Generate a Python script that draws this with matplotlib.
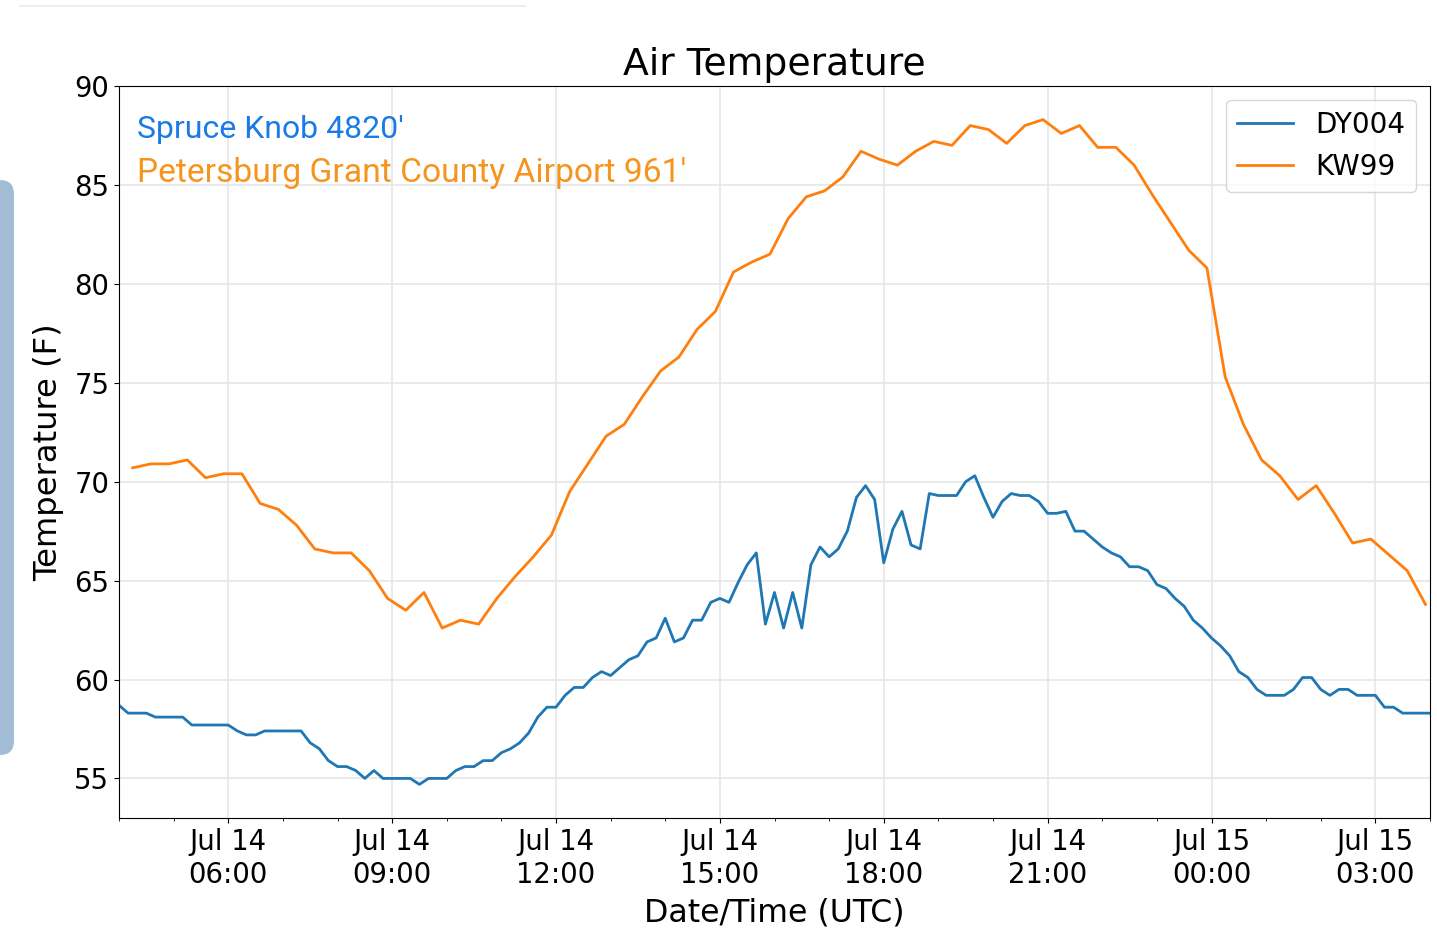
import matplotlib
matplotlib.use("Agg")
import matplotlib.pyplot as plt
import matplotlib.dates as mdates
from matplotlib.patches import FancyBboxPatch
from matplotlib.lines import Line2D
from matplotlib.transforms import IdentityTransform
import pandas as pd

# DY004 (Spruce Knob), every 10 min from Jul 14 04:00 UTC
dy004_start = "2018-07-14 04:00"
dy004_temp = [
    58.7, 58.3, 58.3, 58.3, 58.1, 58.1, 58.1, 58.1, 57.7, 57.7, 57.7, 57.7,  # 04-05
    57.7, 57.4, 57.2, 57.2, 57.4, 57.4, 57.4, 57.4, 57.4, 56.8, 56.5, 55.9,  # 06-07
    55.6, 55.6, 55.4, 55.0, 55.4, 55.0, 55.0, 55.0, 55.0, 54.7, 55.0, 55.0,  # 08-09
    55.0, 55.4, 55.6, 55.6, 55.9, 55.9, 56.3, 56.5, 56.8, 57.3, 58.1, 58.6,  # 10-11
    58.6, 59.2, 59.6, 59.6, 60.1, 60.4, 60.2, 60.6, 61.0, 61.2, 61.9, 62.1,  # 12-13
    63.1, 61.9, 62.1, 63.0, 63.0, 63.9, 64.1, 63.9, 64.9, 65.8, 66.4, 62.8,  # 14-15
    64.4, 62.6, 64.4, 62.6, 65.8, 66.7, 66.2, 66.6, 67.5, 69.2, 69.8, 69.1,  # 16-17
    65.9, 67.6, 68.5, 66.8, 66.6, 69.4, 69.3, 69.3, 69.3, 70.0, 70.3, 69.2,  # 18-19
    68.2, 69.0, 69.4, 69.3, 69.3, 69.0, 68.4, 68.4, 68.5, 67.5, 67.5, 67.1,  # 20-21
    66.7, 66.4, 66.2, 65.7, 65.7, 65.5, 64.8, 64.6, 64.1, 63.7, 63.0, 62.6,  # 22-23
    62.1, 61.7, 61.2, 60.4, 60.1, 59.5, 59.2, 59.2, 59.2, 59.5, 60.1, 60.1,  # 00-01
    59.5, 59.2, 59.5, 59.5, 59.2, 59.2, 59.2, 58.6, 58.6, 58.3, 58.3, 58.3,  # 02-03
    58.3,
]

# KW99 (Petersburg), every 20 min from Jul 14 04:15 UTC
kw99_start = "2018-07-14 04:15"
kw99_temp = [
    70.7, 70.9, 70.9, 71.1, 70.2, 70.4, 70.4, 68.9, 68.6, 67.8, 66.6, 66.4,
    66.4, 65.5, 64.1, 63.5, 64.4, 62.6, 63.0, 62.8, 64.1, 65.2, 66.2, 67.3,
    69.5, 70.9, 72.3, 72.9, 74.3, 75.6, 76.3, 77.7, 78.6, 80.6, 81.1, 81.5,
    83.3, 84.4, 84.7, 85.4, 86.7, 86.3, 86.0, 86.7, 87.2, 87.0, 88.0, 87.8,
    87.1, 88.0, 88.3, 87.6, 88.0, 86.9, 86.9, 86.0, 84.5, 83.1, 81.7, 80.8,
    75.3, 72.9, 71.1, 70.3, 69.1, 69.8, 68.4, 66.9, 67.1, 66.3, 65.5, 63.8,
]

dy004_time = pd.date_range(dy004_start, periods=len(dy004_temp), freq="10min")
kw99_time = pd.date_range(kw99_start, periods=len(kw99_temp), freq="20min")

fig = plt.figure(figsize=(14.37, 9.44), dpi=100)
ax = fig.add_axes([119 / 1437, 126 / 944, 1311 / 1437, 732 / 944])

ax.plot(dy004_time, dy004_temp, color="#1f77b4", lw=2, label="DY004")
ax.plot(kw99_time, kw99_temp, color="#ff7f0e", lw=2, label="KW99")

ax.set_xlim(pd.Timestamp("2018-07-14 04:00"), pd.Timestamp("2018-07-15 04:00"))
ax.set_ylim(53, 90)
ax.set_yticks([55, 60, 65, 70, 75, 80, 85, 90])

ax.xaxis.set_major_locator(mdates.HourLocator(byhour=range(0, 24, 3)))
ax.xaxis.set_minor_locator(mdates.HourLocator())
ax.xaxis.set_major_formatter(mdates.DateFormatter("%b %d\n%H:%M"))
ax.tick_params(axis="both", which="major", labelsize=19.8)
for lbl in ax.get_xticklabels():
    lbl.set_ha("center")
    lbl.set_linespacing(1.25)

ax.grid(True, color="#e6e6e6", lw=1.2)
ax.set_axisbelow(True)

ax.set_title("Air Temperature", fontsize=27.2, pad=8)
ax.set_xlabel("Date/Time (UTC)", fontsize=22.8, labelpad=6)
ax.set_ylabel("Temperature (F)", fontsize=23.2, labelpad=7)

ax.legend(loc="upper right", fontsize=20, handlelength=2.0)

# station names
ax.text(0.014, 0.929, "Spruce Knob 4820'", transform=ax.transAxes,
        family="Roboto", fontsize=23, color="#1a7ae6", va="baseline")
ax.text(0.014, 0.869, "Petersburg Grant County Airport 961'", transform=ax.transAxes,
        family="Roboto", fontsize=24.2, color="#f5951f", va="baseline")

# screenshot leftovers
fig.patches.append(FancyBboxPatch((-30, 189), 44, 575,
                                  boxstyle="round,pad=0,rounding_size=14",
                                  transform=IdentityTransform(), facecolor="#a3bcd6",
                                  edgecolor="none", figure=fig))
fig.lines.append(Line2D([20, 525], [938, 938], transform=IdentityTransform(),
                        color="#eeeeee", lw=1.5, figure=fig))

fig.savefig("out.png", dpi=100)
